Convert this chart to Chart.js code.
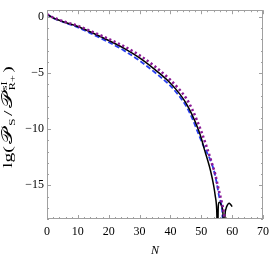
<!DOCTYPE html>
<html>
<head>
<meta charset="utf-8">
<script src="https://cdn.jsdelivr.net/npm/chart.js@4/dist/chart.umd.min.js"></script>
<style>
	html, body { margin: 0; padding: 0; background: #fff; }
	#wrap { width: 275px; height: 256px; }
</style>
</head>
<body>
<div id="wrap"><canvas id="lgChart" width="275" height="256"></canvas></div>
<script>
'use strict';

// 축 눈금
const xTicks = [0, 10, 20, 30, 40, 50, 60, 70];
const yTicks = [-15, -10, -5, 0];

// 검은 실선
const blackN = [0, 1, 2, 5, 10, 15, 20, 25, 30, 35, 40, 43, 45, 47, 49, 50, 51, 52, 53, 54, 54.5, 55, 55.3, 55.5, 55.7, 56, 56.5, 57, 57.4, 57.7, 58, 58.5, 59, 59.5, 60];
const blackV = [0.25, 0.08, -0.08, -0.4, -0.85, -1.45, -2.1, -2.8, -3.65, -4.7, -5.9, -6.85, -7.65, -8.7, -10.0, -10.8, -11.8, -12.7, -13.7, -15.0, -15.9, -17.2, -20, -16.9, -16.55, -16.5, -16.8, -17.4, -20, -17.6, -17.1, -16.75, -16.6, -16.7, -16.9];

// 파란 대시선
const blueN = [0, 1, 5, 10, 15, 20, 25, 30, 35, 40, 43, 45, 47, 49, 50.5, 52.2, 53.3, 54.3, 55, 55.8, 56.4, 56.8, 57.1];
const blueV = [0.25, 0.05, -0.43, -0.93, -1.57, -2.25, -3.0, -3.9, -4.95, -6.15, -7.1, -7.9, -9.0, -10.35, -11.35, -12.3, -13.0, -13.9, -14.8, -16.0, -16.6, -17.4, -20];

// 보라 점선
const purpleN = [0, 1, 5, 10, 15, 20, 25, 30, 35, 40, 43, 45, 47, 48.5, 50, 52, 53.5, 54.5, 55.3, 56, 56.7, 57.3, 57.8];
const purpleV = [0.25, 0.08, -0.36, -0.8, -1.36, -1.97, -2.63, -3.42, -4.42, -5.62, -6.5, -7.2, -8.2, -9.15, -10.2, -11.8, -13.1, -14.0, -15.0, -15.8, -16.6, -17.4, -18.5];

function toPoints(xs, ys) {
	return xs.map((x, i) => ({ x: x, y: ys[i] }));
}

const serif = "'Liberation Serif', 'DejaVu Serif', serif";

// 프레임, 안쪽 눈금, 축 제목
const frameTicks = {
	id: 'frameTicks',
	afterDraw(chart) {
		const ctx = chart.ctx;
		const a = chart.chartArea;
		const xs = chart.scales.x;
		const ys = chart.scales.y;
		ctx.save();
		ctx.strokeStyle = '#a0a0a0';
		ctx.lineWidth = 1;
		ctx.strokeRect(Math.round(a.left) + 0.5, Math.round(a.top) + 0.5,
			Math.round(a.right - a.left) - 1, Math.round(a.bottom - a.top) - 1);

		ctx.beginPath();
		for (let v = xs.min; v <= xs.max; v += 2) {
			const px = Math.round(xs.getPixelForValue(v)) + 0.5;
			const len = (v % 10 === 0) ? 4 : 2;
			ctx.moveTo(px, a.bottom); ctx.lineTo(px, a.bottom - len);
			ctx.moveTo(px, a.top); ctx.lineTo(px, a.top + len);
		}
		for (let v = -18; v <= 0; v += 1) {
			const py = Math.round(ys.getPixelForValue(v)) + 0.5;
			const len = (v % 5 === 0) ? 4 : 2;
			ctx.moveTo(a.left, py); ctx.lineTo(a.left + len, py);
			ctx.moveTo(a.right, py); ctx.lineTo(a.right - len, py);
		}
		ctx.stroke();

		// x축 제목
		ctx.fillStyle = '#000';
		ctx.font = 'italic 12px ' + serif;
		ctx.textAlign = 'center';
		ctx.textBaseline = 'alphabetic';
		ctx.fillText('N', (a.left + a.right) / 2, 254);

		// y축 제목 (회전)
		const size = 12.5;
		const runs = [
			{ t: 'lg(', s: 1, dy: 0 },
			{ t: '𝒫', s: 1.1, dy: 0 },
			{ t: 'S', s: 0.7, dy: 3 },
			{ t: '/', s: 1, dy: 0 },
			{ t: '𝒫', s: 1.1, dy: 0 },
			{ stack: true, sup: 'sI', sub: 'R+', s: 0.62 },
			{ t: ')', s: 1, dy: 0 }
		];
		const fontOf = s => (size * s).toFixed(1) + 'px ' + serif;
		let total = 0;
		runs.forEach(r => {
			ctx.font = fontOf(r.s);
			if (r.stack) {
				r.w = Math.max(ctx.measureText(r.sup).width, ctx.measureText(r.sub).width) + 1.5;
			} else {
				r.w = ctx.measureText(r.t).width + 1.5;
			}
			total += r.w;
		});
		const stretch = 104 / total;
		ctx.translate(12, 116);
		ctx.rotate(-Math.PI / 2);
		ctx.scale(stretch, 1);
		ctx.textAlign = 'left';
		let cx = -total / 2;
		runs.forEach(r => {
			ctx.font = fontOf(r.s);
			if (r.stack) {
				ctx.fillText(r.sup, cx, -5.5);
				ctx.fillText(r.sub, cx, 3);
			} else {
				ctx.fillText(r.t, cx, r.dy);
			}
			cx += r.w;
		});
		ctx.restore();
	}
};

new Chart(document.getElementById('lgChart'), {
	type: 'scatter',
	data: {
		datasets: [{
			label: 'purple',
			data: toPoints(purpleN, purpleV),
			showLine: true,
			borderColor: '#8a1a96',
			borderWidth: 2.6,
			borderDash: [2.2, 2.6],
			pointRadius: 0,
			cubicInterpolationMode: 'monotone',
			clip: 0
		}, {
			label: 'black',
			data: toPoints(blackN, blackV),
			showLine: true,
			borderColor: '#000000',
			borderWidth: 1.5,
			pointRadius: 0,
			cubicInterpolationMode: 'monotone',
			clip: 0
		}, {
			label: 'blue',
			data: toPoints(blueN, blueV),
			showLine: true,
			borderColor: '#2a3ff0',
			borderWidth: 1.8,
			borderDash: [5, 2.5],
			pointRadius: 0,
			cubicInterpolationMode: 'monotone',
			clip: 0
		}]
	},
	options: {
		responsive: false,
		animation: false,
		events: [],
		layout: {
			padding: { top: 1, right: 7, left: 0, bottom: 0 }
		},
		plugins: {
			legend: { display: false },
			tooltip: { enabled: false },
			title: { display: false }
		},
		scales: {
			x: {
				type: 'linear',
				min: 0,
				max: 70,
				afterFit(s) { s.height = 37; },
				afterBuildTicks(s) { s.ticks = xTicks.map(v => ({ value: v })); },
				grid: { display: false, drawTicks: false },
				border: { display: false },
				ticks: {
					color: '#000',
					padding: 6,
					maxRotation: 0,
					font: { family: serif, size: 12 },
					callback: v => String(v).replace('-', '\u2212')
				}
			},
			y: {
				type: 'linear',
				min: -18,
				max: 0.6,
				afterFit(s) { s.width = 47; },
				afterBuildTicks(s) { s.ticks = yTicks.map(v => ({ value: v })); },
				grid: { display: false, drawTicks: false },
				border: { display: false },
				ticks: {
					color: '#000',
					padding: 3,
					font: { family: serif, size: 12 },
					callback: v => String(v).replace('-', '\u2212')
				}
			}
		}
	},
	plugins: [frameTicks]
});
</script>
</body>
</html>
